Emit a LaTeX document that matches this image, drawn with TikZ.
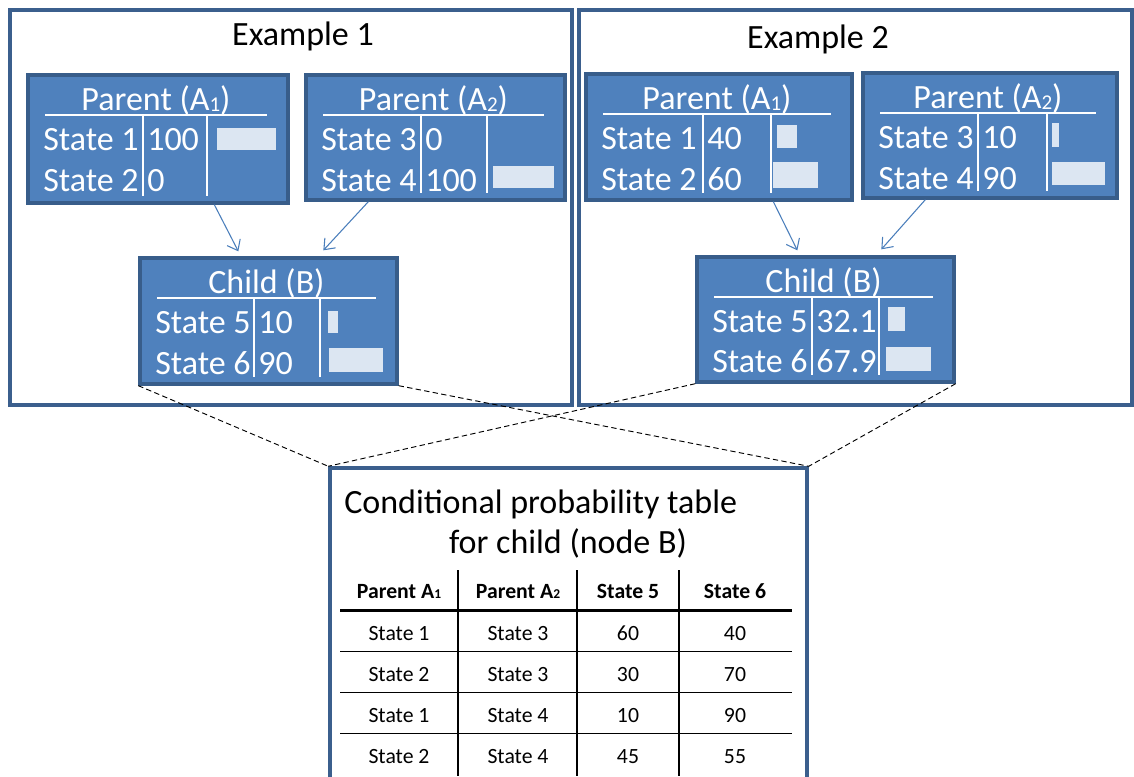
\documentclass[tikz,border=0pt]{standalone}
\usepackage{fontspec}
\setmainfont{Carlito}
\usetikzlibrary{fit,calc,arrows.meta}
\definecolor{nodefill}{HTML}{4F81BD}
\definecolor{nodeline}{HTML}{385D8A}
\definecolor{barfill}{HTML}{DCE6F2}
\definecolor{framecol}{HTML}{3B5F8D}
\definecolor{arrcol}{HTML}{4A7EBB}
\newcommand\smalldig[1]{\raisebox{-0.03em}{\scalebox{0.62}{#1}}}
\tikzset{
  bnbox/.style={draw=nodeline, fill=nodefill, line width=2.5pt, inner sep=0pt},
  exframe/.style={draw=framecol, line width=2.6pt, inner sep=0pt},
  wtxt/.style={text=white, font=\fontsize{25.5}{30}\selectfont, inner sep=0pt},
  btxt/.style={text=black, font=\fontsize{25.5}{30}\selectfont, inner sep=0pt},
  celltxt/.style={text=black, font=\fontsize{16.3}{19}\selectfont, inner sep=0pt, anchor=base},
  headtxt/.style={text=black, font=\fontsize{16.3}{19}\selectfont\bfseries, inner sep=0pt, anchor=base},
  wline/.style={white, line width=0.9pt},
  barbox/.style={fill=barfill},
  arr/.style={arrcol, line width=0.8pt, -{Straight Barb[length=7pt,width=11pt]}},
  dsh/.style={black, line width=0.7pt, dash pattern=on 4pt off 2.5pt},
  thinrule/.style={black, line width=1pt},
  thickrule/.style={black, line width=1.8pt},
}
\newcommand\bnbox[8]{%
  \node[bnbox, fit={(#2,#3) (#2+#4,#3+#5)}] (#1) {};
  \node[wtxt, anchor=base] (#1-title) at (#2+#4/2-2,#3+35) {#6};
  \draw[wline] (#2+17,#3+40) -- (#2+#4-21,#3+40);
  \draw[wline] (#2+#7,#3+40) -- (#2+#7,#3+#5-7);
  \draw[wline] (#2+#8,#3+40) -- (#2+#8,#3+#5-7);
}
\newcommand\bnrow[6]{%
  \node[wtxt, anchor=base west] (#1-s) at (#2+15,#3) {#5};
  \node[wtxt, anchor=base west] (#1-v) at (#2+#4+4,#3) {#6};
}
\begin{document}
\begin{tikzpicture}[x=0.75pt,y=-0.75pt]
\useasboundingbox (0,0) rectangle (1134,776);
% example frames
\node[exframe, fit={(10,10) (572,405)}] (f1) {};
\node[exframe, fit={(579,10) (1132,405)}] (f2) {};
\node[btxt, anchor=base] (f1t) at (303,45) {Example 1};
\node[btxt, anchor=base] (f2t) at (818,48) {Example 2};
% Example 1
\bnbox{pa}{28}{75}{260}{128}{Parent (A\smalldig{1})}{115}{179}
\bnrow{pa1}{28}{150}{115}{State 1}{100}
\bnrow{pa2}{28}{191}{115}{State 2}{0}
\fill[barbox] (217,128) rectangle (276,150);
\bnbox{pb}{306}{75}{259}{125}{Parent (A\smalldig{2})}{115}{181}
\bnrow{pb1}{306}{150}{115}{State 3}{0}
\bnrow{pb2}{306}{191}{115}{State 4}{100}
\fill[barbox] (493,166) rectangle (554,188);
\bnbox{ca}{140}{258}{257}{126}{Child (B)}{114}{180}
\bnrow{ca1}{140}{333}{114}{State 5}{10}
\bnrow{ca2}{140}{374}{114}{State 6}{90}
\fill[barbox] (328,311) rectangle (338,333);
\fill[barbox] (329,348) rectangle (383,372);
% Example 2
\bnbox{pc}{586}{74}{266}{126}{Parent (A\smalldig{1})}{117}{185}
\bnrow{pc1}{586}{149}{117}{State 1}{40}
\bnrow{pc2}{586}{190}{117}{State 2}{60}
\fill[barbox] (777,125) rectangle (797,148);
\fill[barbox] (773,162) rectangle (818,188);
\bnbox{pd}{863}{73}{254}{125}{Parent (A\smalldig{2})}{115}{184}
\bnrow{pd1}{863}{148}{115}{State 3}{10}
\bnrow{pd2}{863}{189}{115}{State 4}{90}
\fill[barbox] (1052,123) rectangle (1059,147);
\fill[barbox] (1052,162) rectangle (1105,185);
\bnbox{cb}{697}{257}{257}{125}{Child (B)}{115}{182}
\bnrow{cb1}{697}{332}{115}{State 5}{32.1}
\bnrow{cb2}{697}{372}{115}{State 6}{67.9}
\fill[barbox] (888,307) rectangle (905,331);
\fill[barbox] (886,347) rectangle (931,371);
% arrows
\draw[arr] ($(pa.south west)+(188,0)$) -- ($(ca.north west)+(100,-5)$);
\draw[arr] ($(pb.south west)+(64,0)$) -- ($(ca.north west)+(185,-6)$);
\draw[arr] ($(pc.south west)+(189,0)$) -- ($(cb.north west)+(102,-5)$);
\draw[arr] ($(pd.south west)+(64,0)$) -- ($(cb.north west)+(186,-6)$);
% CPT box
\node[exframe, fit={(330,468) (807,790)}] (cpt) {};
\draw[dsh] (ca.south west) -- (cpt.north west);
\draw[dsh] (ca.south east) -- (cpt.north east);
\draw[dsh] (cb.south west) -- (cpt.north west);
\draw[dsh] (cb.south east) -- (cpt.north east);
\node[btxt, anchor=base west] (cpt1) at (344,513) {Conditional probability table};
\node[btxt, anchor=base] (cpt2) at (568,553) {for child (node B)};
% table
\draw[thickrule] (340,610.5) -- (792,610.5);
\foreach \yy in {651.5,692.5,733.5} \draw[thinrule] (340,\yy) -- (792,\yy);
\draw[thinrule] (458,570) -- (458,776);
\draw[thickrule] (577,570) -- (577,776);
\draw[thinrule] (679,570) -- (679,776);
\node[headtxt] (h1) at (399,598) {Parent A\smalldig{1}};
\node[headtxt] (h2) at (518,598) {Parent A\smalldig{2}};
\node[headtxt] (h3) at (628,598) {State 5};
\node[headtxt] (h4) at (735,598) {State 6};
\foreach \a/\b/\c/\d [count=\i] in {State 1/State 3/60/40, State 2/State 3/30/70, State 1/State 4/10/90, State 2/State 4/45/55}{
  \node[celltxt] (r\i a) at (399,599+41*\i) {\a};
  \node[celltxt] (r\i b) at (518,599+41*\i) {\b};
  \node[celltxt] (r\i c) at (628,599+41*\i) {\c};
  \node[celltxt] (r\i d) at (735,599+41*\i) {\d};
}
\end{tikzpicture}
\end{document}
